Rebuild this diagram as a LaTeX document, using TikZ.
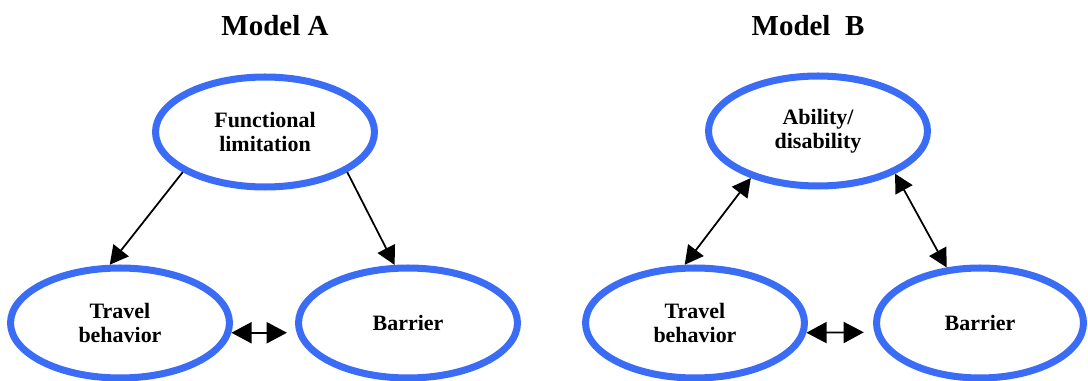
\documentclass[tikz,border=0pt]{standalone}
\usepackage{fontspec}
\setmainfont{Liberation Serif}
\usetikzlibrary{shapes.geometric,arrows.meta}
\definecolor{ovalblue}{RGB}{59,108,246}
\tikzstyle{eblue}=[ellipse, draw=ovalblue, line width=4pt, minimum width=4.38cm, minimum height=2.2cm, align=center, font=\bfseries\fontsize{12.5}{13.8}\selectfont]
\tikzstyle{mtitle}=[font=\bfseries\fontsize{16.5}{19}\selectfont]
\tikzstyle{one}=[line width=1pt, -{Triangle[length=10.5pt,width=11pt]}]
\tikzstyle{both}=[line width=1pt, {Triangle[length=10.5pt,width=11pt]}-{Triangle[length=10.5pt,width=11pt]}]
\tikzstyle{pair}=[line width=1pt, {Triangle[length=11.5pt,width=12pt]}-{Triangle[length=11.5pt,width=12pt]}]

\begin{document}
\begin{tikzpicture}[x=0.02cm, y=-0.02cm]
\useasboundingbox (0,0) rectangle (1088,381);

% model A
\node[mtitle] (ta) at (275,26) {Model A};
\node[eblue] (fl) at (265,132) {Functional\\limitation};
\node[eblue] (tb1) at (120,323) {Travel\\behavior};
\node[eblue] (br1) at (408,323) {Barrier};

\draw[one] (fl.206) -- (tb1.100);
\draw[one] (fl.334) -- (br1.103);
\draw[pair, shorten >=5.5pt] (tb1.355) -- (br1.185);

% model B
\node[mtitle] (tb) at (808,26) {Model\ \ B};
\node[eblue] (ab) at (818,131) {Ability/\\disability};
\node[eblue] (tb2) at (695,323) {Travel\\behavior};
\node[eblue, minimum width=4.14cm] (br2) at (980,323) {Barrier};

\draw[both] (tb2.100) -- (ab.215);
\draw[both] (br2.121) -- (ab.331);
\draw[pair, shorten >=6pt] (tb2.355) -- (br2.185);

\end{tikzpicture}
\end{document}
